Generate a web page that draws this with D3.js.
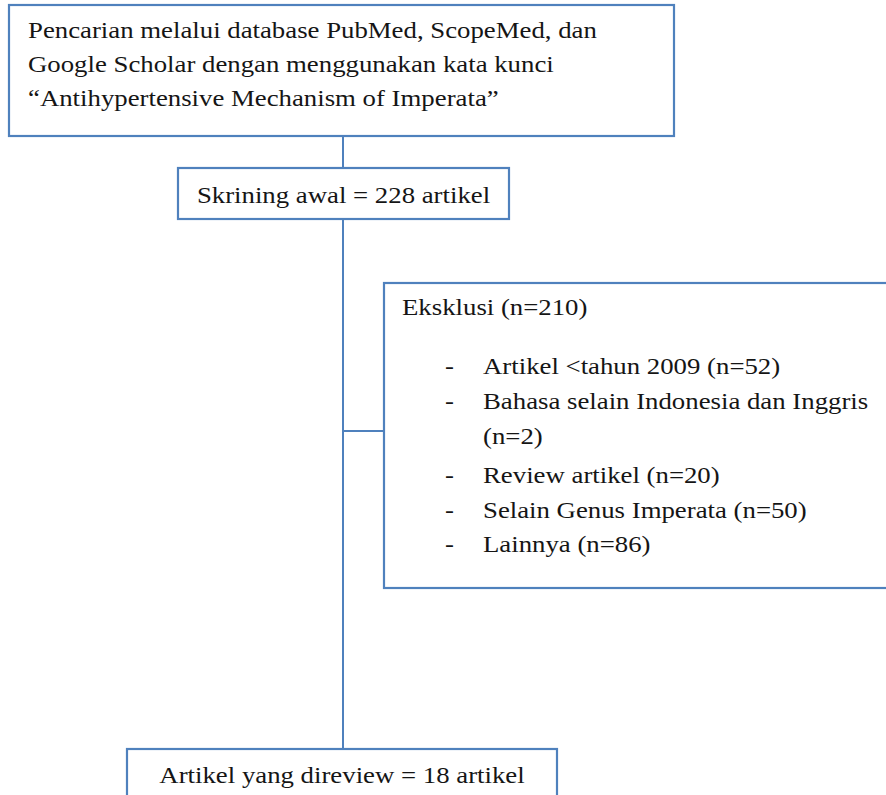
<!DOCTYPE html>
<html>
<head>
<meta charset="utf-8">
<script src="https://cdn.jsdelivr.net/npm/d3@7"></script>
<style>
  body { margin: 0; background: #fff; }
  svg { display: block; }
</style>
</head>
<body>
<svg width="886" height="795"></svg>
<script>
// flowchart text
const searchLines = [
  'Pencarian melalui database PubMed, ScopeMed, dan',
  'Google Scholar dengan menggunakan kata kunci',
  '\u201CAntihypertensive Mechanism of Imperata\u201D'
];
const screeningText = 'Skrining awal = 228 artikel';
const exclusionTitle = 'Eksklusi (n=210)';
const exclusionItems = [
  ['Artikel <tahun 2009 (n=52)'],
  ['Bahasa selain Indonesia dan Inggris', '(n=2)'],
  ['Review artikel (n=20)'],
  ['Selain Genus Imperata (n=50)'],
  ['Lainnya (n=86)']
];
const reviewedText = 'Artikel yang direview = 18 artikel';

const svg = d3.select('svg');
const stroke = '#4f81bd';
const font = '"Liberation Serif", "Times New Roman", serif';
const fontSize = 23;
const stretch = 1.165; // the picture is a bit wider than tall

const g = svg.append('g');

// boxes
const boxes = [
  { x: 9, y: 5, w: 665, h: 131 },
  { x: 178, y: 168, w: 331, h: 51 },
  { x: 384, y: 283, w: 520, h: 305 },
  { x: 127, y: 749, w: 430, h: 80 }
];

// connectors
const spineX = 343;
const lines = [
  [[spineX, 136], [spineX, 168]],
  [[spineX, 219], [spineX, 749]],
  [[spineX, 431], [384, 431]]
];

g.selectAll('path.link')
  .data(lines)
  .join('path')
  .attr('class', 'link')
  .attr('d', d3.line())
  .attr('fill', 'none')
  .attr('stroke', stroke)
  .attr('stroke-width', 2);

g.selectAll('rect.box')
  .data(boxes)
  .join('rect')
  .attr('class', 'box')
  .attr('x', d => d.x)
  .attr('y', d => d.y)
  .attr('width', d => d.w)
  .attr('height', d => d.h)
  .attr('fill', 'none')
  .attr('stroke', stroke)
  .attr('stroke-width', 2.2);

const text = (x, y, s, anchor) => g.append('text')
  .attr('transform', `translate(${x},${y}) scale(${stretch},1)`)
  .attr('text-anchor', anchor || 'start')
  .style('font-family', font)
  .style('font-size', fontSize + 'px')
  .attr('fill', '#151515')
  .text(s);

searchLines.forEach((s, i) => text(28, 38 + i * 34, s));

text(boxes[1].x + boxes[1].w / 2, 203, screeningText, 'middle');

text(402, 315, exclusionTitle);

const itemBaselines = [374, 409, 444, 483, 518, 552];
let row = 0;
exclusionItems.forEach(item => {
  text(445, itemBaselines[row], '-');
  item.forEach(s => {
    text(483, itemBaselines[row], s);
    row++;
  });
});

text(boxes[3].x + boxes[3].w / 2, 783, reviewedText, 'middle');
</script>
</body>
</html>
